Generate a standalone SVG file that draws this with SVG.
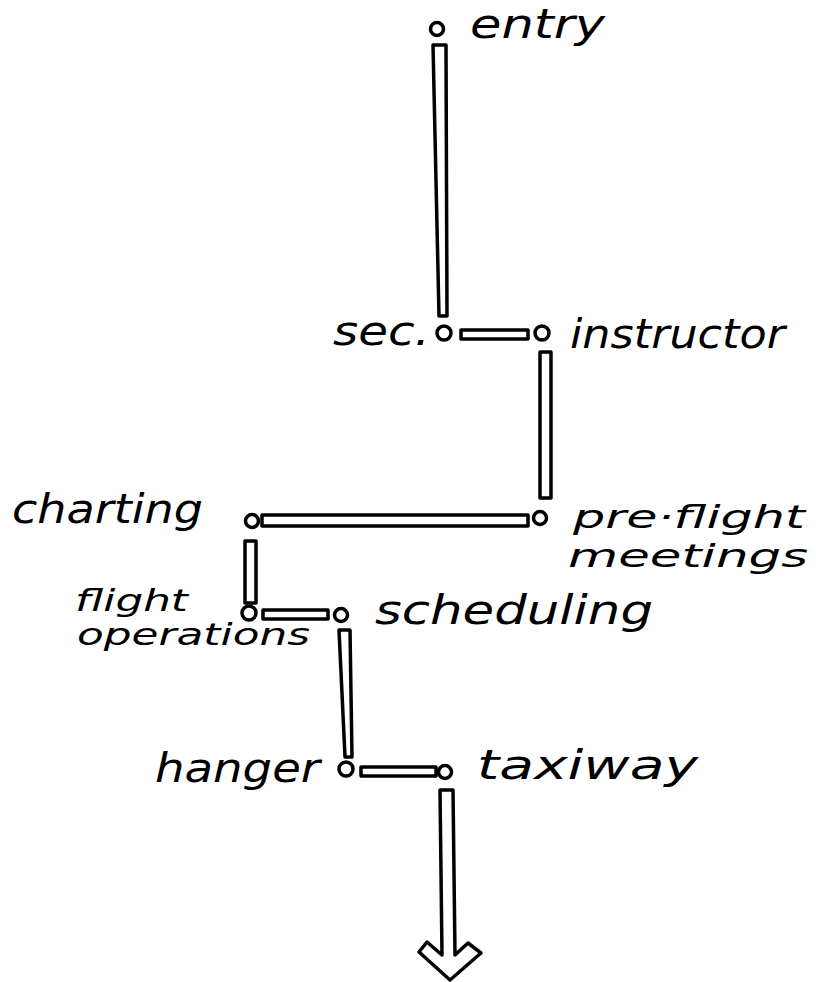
<svg xmlns="http://www.w3.org/2000/svg" width="816" height="982" viewBox="0 0 816 982">
<style>
.n{fill:#fff;stroke:#000;stroke-width:3.5}
.c{fill:#fff;stroke:#000;stroke-width:3.5;stroke-linejoin:round}
.t{font-family:"DejaVu Sans","Liberation Sans",sans-serif;font-style:italic;font-size:40px;fill:#000}
.s{font-size:32px}
.f{font-size:30px}
</style>
<rect width="816" height="982" fill="#fff"/>
<g id="connectors">
<path class="c" d="M433,45 L446,45 L447,316 L439,316 Z"/>
<rect class="c" x="461" y="330" width="67" height="9"/>
<rect class="c" x="540" y="352" width="11" height="146"/>
<rect class="c" x="262" y="515" width="266" height="11"/>
<rect class="c" x="245" y="541" width="11" height="62"/>
<rect class="c" x="263" y="610" width="65" height="9"/>
<path class="c" d="M339,630 L350,630 L352,757 L345,757 Z"/>
<rect class="c" x="361" y="767" width="75" height="9"/>
<path class="c" d="M440,790 L453,790 L455,955 L468,943 L481,953 L450,980 L419,952 L427,942 L442,955 Z"/>
</g>
<g id="entry"><circle class="n" cx="437" cy="29" r="6.5"/><text class="t" x="470" y="38" textLength="135" lengthAdjust="spacingAndGlyphs">entry</text></g>
<g id="sec"><circle class="n" cx="444" cy="333" r="7"/><text class="t" x="333" y="345" textLength="97" lengthAdjust="spacingAndGlyphs">sec.</text></g>
<g id="instructor"><circle class="n" cx="542" cy="333" r="7"/><text class="t" x="570" y="348" textLength="215" lengthAdjust="spacingAndGlyphs">instructor</text></g>
<g id="charting"><circle class="n" cx="252" cy="521" r="6.5"/><text class="t" x="12" y="523" textLength="191" lengthAdjust="spacingAndGlyphs">charting</text></g>
<g id="preflight"><circle class="n" cx="540" cy="518" r="6.5"/><text class="t s" x="573" y="528" textLength="232" lengthAdjust="spacingAndGlyphs">pre·flight</text><text class="t s" x="568" y="567" textLength="240" lengthAdjust="spacingAndGlyphs">meetings</text></g>
<g id="flightops"><circle class="n" cx="249" cy="613" r="7"/><text class="t f" x="75" y="611" textLength="113" lengthAdjust="spacingAndGlyphs">flight</text><text class="t f" x="77" y="645" textLength="233" lengthAdjust="spacingAndGlyphs">operations</text></g>
<g id="scheduling"><circle class="n" cx="341" cy="615" r="6.5"/><text class="t" x="375" y="624" textLength="278" lengthAdjust="spacingAndGlyphs">scheduling</text></g>
<g id="hanger"><circle class="n" cx="346" cy="769" r="7"/><text class="t" x="155" y="782" textLength="165" lengthAdjust="spacingAndGlyphs">hanger</text></g>
<g id="taxiway"><circle class="n" cx="445" cy="772" r="6.5"/><text class="t" x="477" y="779" textLength="221" lengthAdjust="spacingAndGlyphs">taxiway</text></g>
</svg>
